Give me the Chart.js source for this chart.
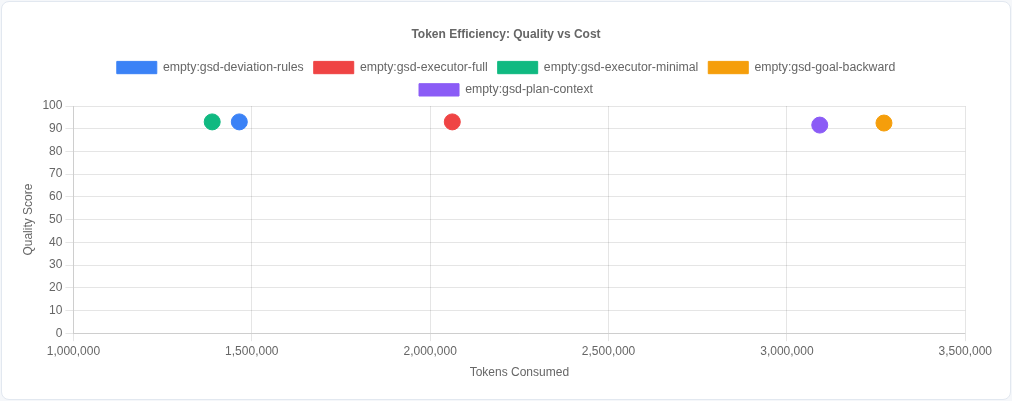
<!DOCTYPE html>
<html>
<head>
<meta charset="utf-8">
<script src="https://cdn.jsdelivr.net/npm/chart.js@4.4.1/dist/chart.umd.min.js"></script>
<style>
  html, body { margin: 0; padding: 0; background: #f5f7fa; }
  .card {
    position: absolute; left: 1px; top: 1px;
    width: 1010px; height: 399px; box-sizing: border-box;
    background: #fff; border: 1px solid #e2e8f0; border-radius: 8px;
    padding: 15px 15px;
  }
  .wrap { position: relative; width: 100%; height: 100%; }
</style>
</head>
<body>
<div class="card"><div class="wrap"><canvas id="chartTokens"></canvas></div></div>
<script>
// series : nom, tokens consommés, score qualité
var seriesNames = ['empty:gsd-deviation-rules', 'empty:gsd-executor-full', 'empty:gsd-executor-minimal', 'empty:gsd-goal-backward', 'empty:gsd-plan-context'];
var tokensUsed = [1465000, 2062000, 1389000, 3272000, 3092000];
var qualityScores = [93, 93, 93, 92.5, 91.6];
var seriesColors = ['#3b82f6', '#ef4444', '#10b981', '#f59e0b', '#8b5cf6'];

var datasetsValue = [];
for (var i = 0; i < seriesNames.length; i++) {
    datasetsValue.push({
        label: seriesNames[i],
        data: [{ x: tokensUsed[i], y: qualityScores[i] }],
        backgroundColor: seriesColors[i],
        borderColor: seriesColors[i],
        pointRadius: 8,
        pointHoverRadius: 10
    });
}

new Chart(document.getElementById('chartTokens').getContext('2d'), {
    type: 'scatter',
    data: { datasets: datasetsValue },
    options: {
        responsive: true,
        maintainAspectRatio: false,
        animation: false,
        plugins: {
            title: {
                display: true,
                text: 'Token Efficiency: Quality vs Cost'
            },
            legend: {
                display: true,
                labels: { font: { size: 12.3 } } // texte un peu plus large, comme la référence (2 lignes)
            }
        },
        scales: {
            x: {
                type: 'linear',
                min: 1000000,
                max: 3500000,
                ticks: { stepSize: 500000 },
                title: { display: true, text: 'Tokens Consumed' }
            },
            y: {
                min: 0,
                max: 100,
                ticks: { stepSize: 10 },
                title: { display: true, text: 'Quality Score' }
            }
        }
    }
});
</script>
</body>
</html>
